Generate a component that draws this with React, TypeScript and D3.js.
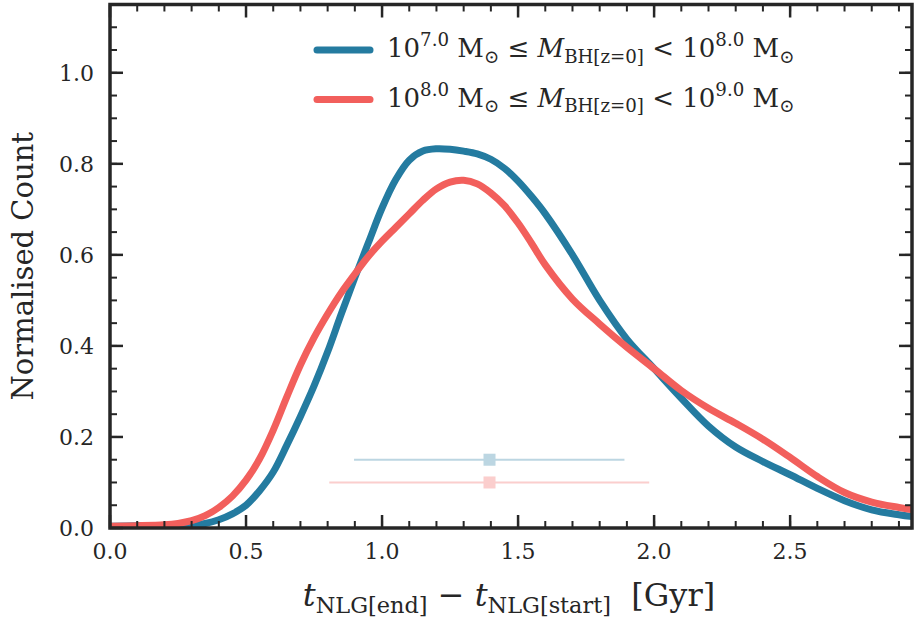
import React from 'react';
import * as d3 from 'd3';

const T_GRID = [0, 0.1, 0.2, 0.25, 0.3, 0.35, 0.4, 0.45, 0.5, 0.55, 0.6, 0.65, 0.7, 0.75, 0.8, 0.85, 0.9, 0.95, 1.0, 1.05, 1.1, 1.15, 1.2, 1.25, 1.3, 1.35, 1.4, 1.45, 1.5, 1.55, 1.6, 1.7, 1.8, 1.9, 2.0, 2.1, 2.2, 2.3, 2.4, 2.5, 2.6, 2.7, 2.8, 2.9, 2.95];

const BLUE_VALUES = [0.004, 0.005, 0.005, 0.005, 0.006, 0.01, 0.018, 0.031, 0.05, 0.082, 0.123, 0.182, 0.245, 0.312, 0.387, 0.47, 0.55, 0.627, 0.703, 0.765, 0.808, 0.828, 0.833, 0.832, 0.828, 0.822, 0.81, 0.79, 0.762, 0.728, 0.69, 0.6, 0.5, 0.415, 0.35, 0.285, 0.224, 0.178, 0.146, 0.117, 0.087, 0.06, 0.04, 0.029, 0.025];

const RED_VALUES = [0.004, 0.005, 0.007, 0.01, 0.016, 0.027, 0.045, 0.07, 0.105, 0.152, 0.215, 0.288, 0.358, 0.418, 0.47, 0.517, 0.558, 0.597, 0.63, 0.66, 0.69, 0.72, 0.745, 0.76, 0.764, 0.756, 0.736, 0.708, 0.67, 0.625, 0.578, 0.503, 0.448, 0.397, 0.35, 0.302, 0.263, 0.23, 0.195, 0.155, 0.113, 0.078, 0.057, 0.045, 0.04];

// error bars: [lo, centre, hi, y]
const BLUE_ERR = [0.897, 1.395, 1.891, 0.15];
const RED_ERR = [0.806, 1.395, 1.982, 0.10];

const X_MAJOR = [0, 0.5, 1.0, 1.5, 2.0, 2.5];
const X_MINOR = d3.range(0, 2.95, 0.1);
const Y_MAJOR = [0, 0.2, 0.4, 0.6, 0.8, 1.0];
const Y_MINOR = d3.range(0, 1.151, 0.05);

const BLUE = '#247BA0';
const RED = '#F25F5C';
const INK = '#262626';
const FONT = "'DejaVu Serif', serif";

const W = 914, H = 623;
const M = { left: 110, right: 2, top: 4.5, bottom: 95 };

type Seg = { t: string; k?: 'sup' | 'sub'; i?: boolean; dx?: number };

function Rich({ x, y, segs, size, anchor }: { x: number; y: number; segs: Seg[]; size: number; anchor?: string }) {
  let cur = 0;
  const out: any[] = [];
  segs.forEach((s, idx) => {
    const target = s.k === 'sup' ? -0.42 * size : s.k === 'sub' ? 0.22 * size : 0;
    const dy = target - cur;
    cur = target;
    out.push(
      <tspan key={idx} dy={dy} dx={s.dx || 0} fontSize={s.k ? size * 0.7 : size} fontStyle={s.i ? 'italic' : 'normal'}>
        {s.t}
      </tspan>
    );
  });
  return (
    <text x={x} y={y} fontFamily={FONT} fill={INK} textAnchor={anchor || 'start'} style={{ whiteSpace: 'pre' }}>
      {out}
    </text>
  );
}

export default function App() {
  const x = d3.scaleLinear().domain([0, 2.948]).range([M.left, W - M.right]);
  const y = d3.scaleLinear().domain([0, 1.15]).range([H - M.bottom, M.top]);
  const line = d3
    .line<number>()
    .x((_, i) => x(T_GRID[i]))
    .y((d) => y(d))
    .curve(d3.curveCatmullRom.alpha(0.5));

  const x0 = x.range()[0], x1 = x.range()[1];
  const y0 = y.range()[0], y1 = y.range()[1];

  const errBars = [
    { e: BLUE_ERR, c: BLUE },
    { e: RED_ERR, c: RED },
  ];

  const legend = [
    { c: BLUE, lo: '7.0', hi: '8.0' },
    { c: RED, lo: '8.0', hi: '9.0' },
  ];

  return (
    <svg width={W} height={H} style={{ position: 'absolute', left: 0, top: 0, background: '#fff' }}>
      <defs>
        <clipPath id="plot">
          <rect x={x0} y={y1} width={x1 - x0} height={y0 - y1} />
        </clipPath>
      </defs>

      {/* error bars */}
      {errBars.map(({ e, c }, i) => (
        <g key={i} opacity={0.3}>
          <line x1={x(e[0])} x2={x(e[2])} y1={y(e[3])} y2={y(e[3])} stroke={c} strokeWidth={2} />
          <rect x={x(e[1]) - 6} y={y(e[3]) - 6} width={12} height={12} fill={c} />
        </g>
      ))}

      <g clipPath="url(#plot)">
        <path d={line(BLUE_VALUES) || ''} fill="none" stroke={BLUE} strokeWidth={7} strokeLinecap="round" strokeLinejoin="round" />
        <path d={line(RED_VALUES) || ''} fill="none" stroke={RED} strokeWidth={7} strokeLinecap="round" strokeLinejoin="round" />
      </g>

      {/* ticks */}
      <g stroke={INK}>
        {X_MINOR.map((t, i) => (
          <g key={'xm' + i} strokeWidth={2}>
            <line x1={x(t)} x2={x(t)} y1={y0} y2={y0 - 7} />
            <line x1={x(t)} x2={x(t)} y1={y1} y2={y1 + 7} />
          </g>
        ))}
        {X_MAJOR.map((t, i) => (
          <g key={'xM' + i} strokeWidth={2.5}>
            <line x1={x(t)} x2={x(t)} y1={y0} y2={y0 - 13} />
            <line x1={x(t)} x2={x(t)} y1={y1} y2={y1 + 13} />
          </g>
        ))}
        {Y_MINOR.map((v, i) => (
          <g key={'ym' + i} strokeWidth={2}>
            <line x1={x0} x2={x0 + 7} y1={y(v)} y2={y(v)} />
            <line x1={x1} x2={x1 - 7} y1={y(v)} y2={y(v)} />
          </g>
        ))}
        {Y_MAJOR.map((v, i) => (
          <g key={'yM' + i} strokeWidth={2.5}>
            <line x1={x0} x2={x0 + 13} y1={y(v)} y2={y(v)} />
            <line x1={x1} x2={x1 - 13} y1={y(v)} y2={y(v)} />
          </g>
        ))}
      </g>

      <rect x={x0} y={y1} width={x1 - x0} height={y0 - y1} fill="none" stroke={INK} strokeWidth={3.5} />

      {/* tick labels */}
      {X_MAJOR.map((t, i) => (
        <text key={'xl' + i} x={x(t)} y={y0 + 31} textAnchor="middle" fontFamily={FONT} fontSize={22} fill={INK}>
          {d3.format('.1f')(t)}
        </text>
      ))}
      {Y_MAJOR.map((v, i) => (
        <text key={'yl' + i} x={x0 - 16} y={y(v) + 8} textAnchor="end" fontFamily={FONT} fontSize={22} fill={INK}>
          {d3.format('.1f')(v)}
        </text>
      ))}

      {/* axis labels */}
      <text
        transform={`translate(33, ${(y0 + y1) / 2}) rotate(-90)`}
        textAnchor="middle"
        fontFamily={FONT}
        fontSize={29}
        fill={INK}
      >
        Normalised Count
      </text>
      <Rich
        x={509}
        y={606}
        size={32}
        anchor="middle"
        segs={[
          { t: 't', i: true },
          { t: 'NLG[end]', k: 'sub' },
          { t: ' − ' },
          { t: 't', i: true },
          { t: 'NLG[start]', k: 'sub' },
          { t: '  [Gyr]' },
        ]}
      />

      {/* legend */}
      {legend.map((l, i) => {
        const ly = 50 + i * 49.5;
        return (
          <g key={'lg' + i}>
            <line x1={317} x2={370} y1={ly} y2={ly} stroke={l.c} strokeWidth={7} strokeLinecap="round" />
            <Rich
              x={387}
              y={ly + 7}
              size={26}
              segs={[
                { t: '10' },
                { t: l.lo, k: 'sup' },
                { t: ' M' },
                { t: '⊙', k: 'sub' },
                { t: ' ≤ ' },
                { t: 'M', i: true },
                { t: 'BH[z=0]', k: 'sub' },
                { t: ' < 10' },
                { t: l.hi, k: 'sup' },
                { t: ' M' },
                { t: '⊙', k: 'sub' },
              ]}
            />
          </g>
        );
      })}
    </svg>
  );
}
